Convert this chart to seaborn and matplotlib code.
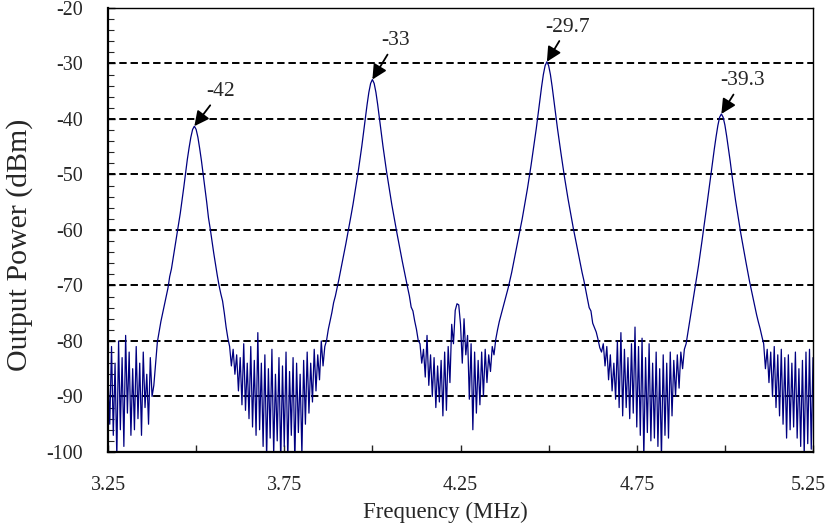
import numpy as np
import matplotlib.pyplot as plt
import matplotlib.transforms as mtransforms
import seaborn as sns
from matplotlib.ticker import MultipleLocator

sns.set_style('ticks')
plt.rcParams['font.family'] = ['Liberation Serif', 'DejaVu Serif']
plt.rcParams['axes.unicode_minus'] = False

# ── スペクトル（3.25–5.25 MHz, 0.005 MHz 刻み, 401 点） ─────────────
noise_0 = [-86, -95, -81, -97, -84, -101, -80, -96, -83, -99,
           -79, -93, -82, -97, -85, -96, -81, -94, -84, -97,
           -82, -92, -86, -95, -83, -90, -88, -84]
peak_1 = [-80.2, -78.3, -76.5, -75.0, -73.5, -72.0, -70.5, -68.4, -67.0, -65.0,
          -63.0, -61.0, -59.0, -57.0, -54.7, -52.3, -49.8, -47.3, -45.2, -43.3,
          -41.9, -41.3,
          -41.9, -43.3, -45.3, -47.5, -50.0, -52.5, -55.0, -57.8, -59.8, -62.0,
          -64.2, -66.2, -68.2, -70.0, -71.5, -72.8, -75.0, -77.5, -79.5, -81.0]
noise_1 = [-84.5, -81.5, -86.0, -82.5, -89.0, -83.0, -91.5, -80.5, -92.5, -84.0,
           -94.0, -81.0, -95.5, -83.5, -97.0, -78.5, -96.0, -84.0, -99.0, -82.5,
           -101.0, -85.0, -97.5, -81.5, -100.5, -86.0, -98.0, -83.0, -102.0, -84.5,
           -99.0, -82.0, -101.5, -85.5, -97.0, -83.0, -102.0, -84.0, -96.5, -86.0,
           -100.5, -83.5, -95.0, -82.0, -93.0, -84.0, -91.0, -81.5, -89.0, -82.5,
           -87.0, -80.0, -84.5, -81.0]
peak_2 = [-79.9, -77.9, -76.4, -74.9, -73.1, -71.9, -70.4, -68.9, -67.3, -65.7,
          -64.1, -62.4, -60.7, -58.9, -57.2, -55.4, -53.4, -51.4, -49.4, -47.2,
          -44.9, -42.4, -39.9, -37.4, -35.2, -33.6,
          -32.9,
          -33.6, -35.2, -37.4, -39.9, -42.4, -44.9, -47.2, -49.4, -51.4, -53.4,
          -55.4, -57.2, -58.9, -60.7, -62.4, -64.1, -65.7, -67.3, -68.9, -70.4,
          -71.9, -73.9, -74.6, -76.4, -77.9, -79.9]
noise_2 = [-80.5, -84.0, -81.5, -86.5, -79.0, -88.0, -82.5, -90.0, -83.0, -92.0,
           -84.5, -91.0, -83.5, -93.5, -82.0, -92.5, -81.0, -87.5, -77.0, -80.5,
           -74.5, -73.3, -73.5, -77.0, -84.0, -76.0, -82.5, -79.0, -90.5, -80.5,
           -96.0, -82.0, -93.0, -83.5, -91.5, -82.0, -90.0, -81.5, -87.5, -82.5,
           -85.5, -81.0, -82.5]
peak_3 = [-79.7, -78.0, -76.5, -75.3, -74.1, -72.9, -71.7, -70.5, -69.1, -67.7,
          -66.1, -64.5, -62.9, -61.3, -59.7, -58.0, -56.2, -54.4, -52.5, -50.5,
          -48.4, -46.2, -44.0, -41.7, -39.2, -36.7, -34.2, -32.0, -30.4,
          -29.7,
          -30.4, -32.0, -34.2, -36.7, -39.2, -41.7, -44.0, -46.2, -48.4, -50.5,
          -52.5, -54.4, -56.2, -58.0, -59.7, -61.3, -62.9, -64.5, -66.1, -67.7,
          -69.1, -70.8, -72.4, -74.0, -74.6, -76.8, -77.6, -78.4, -79.7]
noise_3 = [-81.2, -82.0, -80.5, -84.5, -81.0, -87.0, -82.5, -89.0, -84.0, -90.5,
           -80.0, -92.0, -78.5, -93.5, -81.5, -92.0, -83.0, -94.0, -80.5, -93.0,
           -77.5, -95.5, -81.0, -97.0, -79.5, -101.0, -83.0, -96.5, -80.5, -98.0,
           -84.0, -97.5, -82.0, -99.0, -85.0, -101.0, -82.5, -97.0, -84.0, -97.5,
           -82.0, -93.5, -83.5, -90.0, -82.5, -88.5, -82.0, -85.0, -81.5]
peak_4 = [-80.5, -78.5, -76.5, -74.5, -72.6, -70.5, -68.5, -66.5, -64.3, -62.0,
          -59.7, -57.3, -55.0, -52.6, -50.2, -47.8, -45.4, -43.2, -41.2, -39.7,
          -39.1,
          -39.7, -41.1, -43.1, -45.3, -47.6, -50.1, -52.4, -54.6, -56.6, -58.6,
          -60.6, -62.4, -64.1, -65.9, -67.6, -69.3, -70.8, -72.3, -73.8, -75.3,
          -76.6, -77.8, -79.2]
noise_4 = [-80.5, -85.0, -81.5, -87.5, -82.0, -90.0, -81.0, -92.0, -82.5, -93.5,
           -81.5, -95.0, -83.0, -97.5, -82.5, -96.0, -84.0, -95.5, -82.0, -97.5,
           -85.0, -99.0, -83.5, -100.5, -82.0, -98.5, -81.5, -99.5, -83.0]

power = (noise_0 + peak_1 + noise_1 + peak_2 + noise_2 + peak_3
         + noise_3 + peak_4 + noise_4)
freq = np.linspace(3.25, 5.25, len(power))

# ピーク注記
peak_freq = [3.495, 4.0, 4.495, 4.99]
peak_db = [-41.3, -32.9, -29.7, -39.1]
peak_text = ['-42', '-33', '-29.7', '-39.3']
text_offset = [(19, 25), (17, 28), (15, 25), (15, 24)]   # offset points

x_ticks = [3.25, 3.5, 3.75, 4.0, 4.25, 4.5, 4.75, 5.0, 5.25]
x_labels = ['3.25', '', '3.75', '', '4.25', '', '4.75', '', '5.25']
grid_levels = [-30, -40, -50, -60, -70, -80, -90]

fig = plt.figure(figsize=(8.27, 5.28), dpi=100)
ax = fig.add_axes([0.1306, 0.144, 0.8525, 0.841])

for g in grid_levels:
    ax.axhline(g, color='black', lw=1.4, ls=(0, (3.8, 2.0)), zorder=1)

sns.lineplot(x=freq, y=power, ax=ax, color='#000080', lw=0.9,
             estimator=None, sort=False, zorder=3)

for f, db, txt, off in zip(peak_freq, peak_db, peak_text, text_offset):
    ax.annotate(txt, xy=(f, db), xytext=off, textcoords='offset points',
                ha='center', va='center', fontsize=15.5,
                arrowprops=dict(arrowstyle='-|>', color='black', lw=1.3,
                                mutation_scale=22, shrinkA=1, shrinkB=0),
                zorder=5)

ax.set_xlim(3.25, 5.25)
ax.set_ylim(-100, -20)
ax.set_xticks(x_ticks)
ax.set_xticklabels(x_labels)
ax.yaxis.set_major_locator(MultipleLocator(10))
ax.yaxis.set_minor_locator(MultipleLocator(2))
ax.tick_params(axis='x', direction='in', length=5, width=1, labelsize=14.4, pad=17)
ax.tick_params(axis='y', which='major', direction='in', length=5, width=1,
               labelsize=14.4, pad=18)
ax.tick_params(axis='y', which='minor', direction='in', length=4, width=0.8)

# 右端のラベルを少し内側へ
last = ax.get_xticklabels()[-1]
last.set_transform(last.get_transform() +
                   mtransforms.ScaledTranslation(-5 / 100, 0, fig.dpi_scale_trans))

ax.set_xlabel('Frequency (MHz)', fontsize=16.5)
ax.set_ylabel('Output Power (dBm)', fontsize=21.5)
ax.xaxis.set_label_coords(0.478, -0.112)
ax.yaxis.set_label_coords(-0.106, 0.466)

for side in ['left', 'bottom']:
    ax.spines[side].set_linewidth(1.6)
for side in ['top', 'right']:
    ax.spines[side].set_linewidth(1.0)
for s in ax.spines.values():
    s.set_color('black')
    s.set_zorder(4)

fig.savefig('out.png', dpi=100)
